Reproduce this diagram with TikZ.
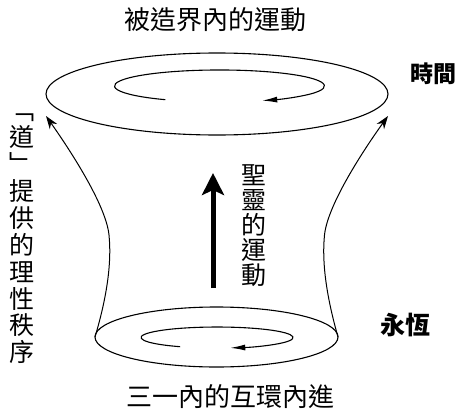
\documentclass[tikz,border=0pt]{standalone}
\usepackage{fontspec}
\newfontfamily\cjk{Noto Sans CJK TC}
\usetikzlibrary{arrows.meta,shapes.geometric}
\begin{document}
\begin{tikzpicture}[x=1pt,y=-1pt,
  ring/.style={draw, ellipse, line width=1.1pt, inner sep=0pt, outer sep=0pt},
  side/.style={line width=1pt, -{Stealth[length=13pt,width=9pt]}},
  swirl/.style={line width=1.1pt, -{Latex[length=15pt,width=6pt]}},
  lbl/.style={font=\cjk\fontsize{26}{26}\selectfont, inner sep=0pt},
  vlbl/.style={font=\cjk\fontsize{25}{25}\selectfont, inner sep=0pt, align=center},
  llbl/.style={font=\cjk\fontsize{25}{26.9}\selectfont, inner sep=0pt, align=center},
  blbl/.style={font=\cjk\bfseries\fontsize{23}{23}\selectfont, inner sep=0pt}]
\useasboundingbox (0,0) rectangle (460,412);

% rings
\node[ring, minimum width=342pt, minimum height=82pt] (topring) at (217,94) {};
\node[ring, minimum width=243pt, minimum height=60pt] (botring) at (216.5,337) {};

% free ends of side arrows
\coordinate (lt) at (46,116);
\coordinate (rt) at (388,116);

% side connectors
\draw[side] (botring.west) .. controls (106,300) and (112,265) .. (109,235)
  .. controls (106,205) and (70,150) .. (lt);
\draw[side] (botring.east) .. controls (327.5,300) and (321.5,265) .. (324.5,235)
  .. controls (327.5,205) and (363.5,150) .. (rt);

% swirls
\coordinate (sw1) at (165.4,99.7);
\coordinate (sw2) at (180.2,346.7);
\draw[swirl] (sw1) arc[start angle=121, end angle=426, x radius=105, y radius=16];
\draw[swirl] (sw2) arc[start angle=119, end angle=440, x radius=76, y radius=10.5];

% Spirit arrow
\coordinate (hsB) at (213,288);
\coordinate (hsT) at (213,173);
\draw[line width=5pt, -{Stealth[length=22pt,width=22pt,inset=5pt]}] (hsB) -- (hsT);

% texts
\node[lbl] (ttop) at (215,20) {被造界內的運動};
\node[lbl] (tbot) at (230,397) {三一內的互環內進};
\node[blbl] (time) at (433,74) {時間};
\node[blbl, font=\cjk\bfseries\fontsize{25}{25}\selectfont] (eter) at (405,325) {永恆};
\node[vlbl] (spirit) at (253.5,225.5) {聖\\靈\\的\\運\\動};
\node[llbl] (logos) at (22,239) {﹁\\道\\﹂\\提\\供\\的\\理\\性\\秩\\序};
\end{tikzpicture}
\end{document}
